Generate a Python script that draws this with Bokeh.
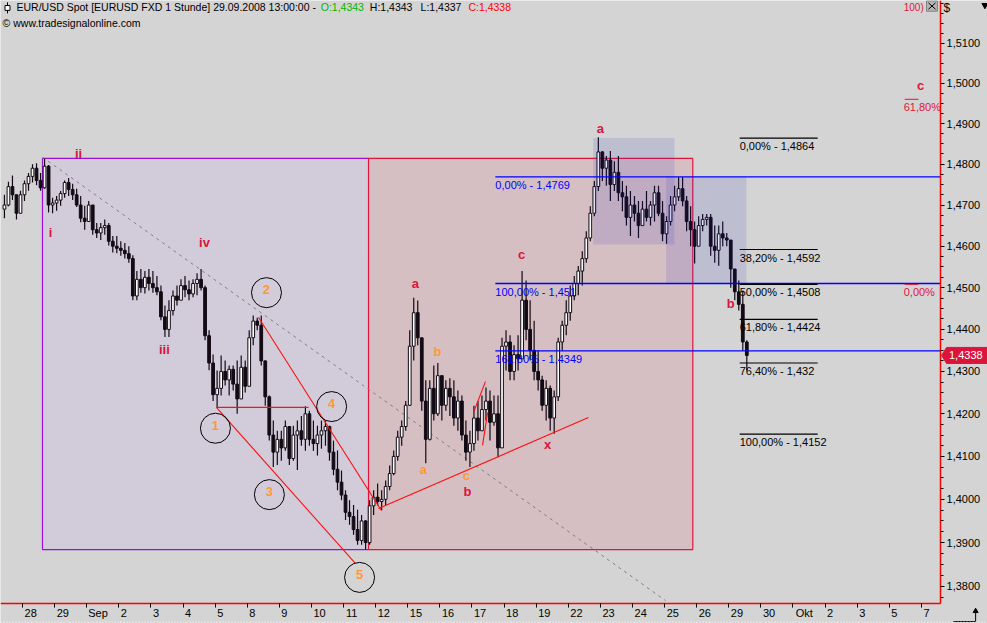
import math
from bokeh.plotting import figure
from bokeh.models import (Range1d, FixedTicker, CustomJSTickFormatter, Label,
                          ColumnDataSource, LinearAxis)
from bokeh.embed import file_html
from bokeh.resources import INLINE
from bokeh.core.properties import value

FONT = "Liberation Sans"

# ---------------- axis data ----------------
day_tick_labels = ["28", "29", "Sep", "2", "3", "4", "5", "8", "9", "10", "11", "12", "15",
                   "16", "17", "18", "19", "22", "23", "24", "25", "26", "29", "30", "Okt",
                   "2", "3", "5", "7"]
y_tick_values = [1.38, 1.39, 1.40, 1.41, 1.42, 1.43, 1.44, 1.45, 1.46, 1.47, 1.48, 1.49,
                 1.50, 1.51]

# ---------------- EUR/USD 3-hour bars (27.08. 09:00 .. 29.09. 12:00) ----------------
first_open = 1.4690
highs = [
    1.4725, 1.4757, 1.4772, 1.4722, 1.4735,                                   # 27 Aug
    1.4760, 1.4778, 1.4800, 1.4802, 1.4778, 1.4814, 1.4798, 1.4718,           # 28
    1.4722, 1.4734, 1.4760, 1.4766, 1.4752, 1.4740, 1.4722, 1.4698,           # 29
    1.4710, 1.4688, 1.4656, 1.4656, 1.4665, 1.4656, 1.4625, 1.4625,           # 1 Sep
    1.4612, 1.4608, 1.4600, 1.4578, 1.4540, 1.4545, 1.4540, 1.4545,           # 2
    1.4540, 1.4528, 1.4505, 1.4457, 1.4470, 1.4493, 1.4505, 1.4520,           # 3
    1.4528, 1.4517, 1.4520, 1.4535, 1.4545, 1.4505, 1.4398, 1.4340,           # 4
    1.4302, 1.4338, 1.4326, 1.4314, 1.4314, 1.4326, 1.4338, 1.4326,           # 5
    1.4398, 1.4433, 1.4428, 1.4433, 1.4326, 1.4243, 1.4184, 1.4160,           # 8
    1.4160, 1.4184, 1.4160, 1.4172, 1.4184, 1.4195, 1.4218, 1.4207,           # 9
    1.4184, 1.4172, 1.4184, 1.4184, 1.4172, 1.4137, 1.4114, 1.4067,           # 10
    1.4021, 1.3998, 1.3987, 1.3976, 1.3964, 1.3952, 1.3998, 1.4021,           # 11
    1.4037, 1.4021, 1.4044, 1.4079, 1.4114, 1.4160, 1.4184, 1.4230,           # 12
    1.4398, 1.4476, 1.4469, 1.4374, 1.4279, 1.4279, 1.4314, 1.4320,           # 15
    1.4290, 1.4279, 1.4284, 1.4279, 1.4255, 1.4243, 1.4184, 1.4160,           # 16
    1.4219, 1.4230, 1.4243, 1.4262, 1.4255, 1.4243, 1.4243, 1.4380,           # 17
    1.4398, 1.4386, 1.4362, 1.4386, 1.4540, 1.4517, 1.4470, 1.4421,           # 18
    1.4350, 1.4290, 1.4279, 1.4267, 1.4255, 1.4380, 1.4421, 1.4470,           # 19
    1.4505, 1.4528, 1.4552, 1.4588, 1.4636, 1.4697, 1.4759, 1.4866,           # 22
    1.4832, 1.4820, 1.4832, 1.4807, 1.4820, 1.4759, 1.4747, 1.4734,           # 23
    1.4722, 1.4710, 1.4710, 1.4734, 1.4710, 1.4747, 1.4747, 1.4710,           # 24
    1.4673, 1.4722, 1.4747, 1.4768, 1.4768, 1.4722, 1.4697, 1.4660,           # 25
    1.4673, 1.4678, 1.4678, 1.4678, 1.4650, 1.4650, 1.4660, 1.4632,           # 26
    1.4558, 1.4540, 1.4517, 1.4493, 1.4374,                                   # 29
]
lows = [
    1.4668, 1.4697, 1.4712, 1.4665, 1.4683,
    1.4710, 1.4735, 1.4755, 1.4748, 1.4735, 1.4740, 1.4682, 1.4680,
    1.4686, 1.4698, 1.4718, 1.4722, 1.4712, 1.4695, 1.4658, 1.4640,
    1.4662, 1.4628, 1.4620, 1.4615, 1.4628, 1.4602, 1.4585, 1.4583,
    1.4577, 1.4570, 1.4560, 1.4470, 1.4470, 1.4488, 1.4486, 1.4493,
    1.4488, 1.4482, 1.4422, 1.4382, 1.4382, 1.4433, 1.4457, 1.4470,
    1.4477, 1.4470, 1.4477, 1.4482, 1.4493, 1.4374, 1.4303, 1.4230,
    1.4215, 1.4243, 1.4267, 1.4243, 1.4255, 1.4200, 1.4255, 1.4250,
    1.4267, 1.4362, 1.4398, 1.4314, 1.4219, 1.4137, 1.4075, 1.4080,
    1.4090, 1.4113, 1.4080, 1.4090, 1.4068, 1.4125, 1.4113, 1.4125,
    1.4113, 1.4102, 1.4118, 1.4125, 1.4090, 1.4056, 1.4021, 1.3998,
    1.3952, 1.3941, 1.3918, 1.3895, 1.3895, 1.3884, 1.3895, 1.3964,
    1.3986, 1.3975, 1.3986, 1.4021, 1.4056, 1.4090, 1.4125, 1.4160,
    1.4219, 1.4326, 1.4362, 1.4207, 1.4084, 1.4137, 1.4184, 1.4195,
    1.4184, 1.4207, 1.4195, 1.4172, 1.4160, 1.4137, 1.4090, 1.4075,
    1.4113, 1.4137, 1.4160, 1.4184, 1.4137, 1.4172, 1.4098, 1.4137,
    1.4302, 1.4279, 1.4279, 1.4302, 1.4350, 1.4374, 1.4326, 1.4279,
    1.4255, 1.4207, 1.4184, 1.4160, 1.4153, 1.4230, 1.4350, 1.4386,
    1.4421, 1.4470, 1.4482, 1.4505, 1.4560, 1.4612, 1.4673, 1.4734,
    1.4759, 1.4747, 1.4710, 1.4734, 1.4710, 1.4685, 1.4650, 1.4625,
    1.4660, 1.4620, 1.4650, 1.4660, 1.4650, 1.4660, 1.4673, 1.4612,
    1.4606, 1.4650, 1.4685, 1.4710, 1.4697, 1.4636, 1.4600, 1.4558,
    1.4612, 1.4636, 1.4650, 1.4577, 1.4560, 1.4553, 1.4600, 1.4600,
    1.4500, 1.4470, 1.4445, 1.4350, 1.4303,
]
closes = [
    1.4700, 1.4745, 1.4725, 1.4680, 1.4725,
    1.4752, 1.4770, 1.4790, 1.4760, 1.4742, 1.4795, 1.4700, 1.4705,
    1.4712, 1.4728, 1.4755, 1.4738, 1.4725, 1.4700, 1.4668, 1.4660,
    1.4700, 1.4640, 1.4632, 1.4645, 1.4650, 1.4612, 1.4600, 1.4595,
    1.4590, 1.4582, 1.4570, 1.4480, 1.4520, 1.4500, 1.4525, 1.4510,
    1.4500, 1.4490, 1.4430, 1.4400, 1.4445, 1.4480, 1.4470, 1.4505,
    1.4495, 1.4485, 1.4510, 1.4520, 1.4500, 1.4385, 1.4320, 1.4245,
    1.4260, 1.4300, 1.4280, 1.4305, 1.4270, 1.4235, 1.4310, 1.4265,
    1.4380, 1.4420, 1.4410, 1.4325, 1.4240, 1.4150, 1.4110, 1.4140,
    1.4120, 1.4170, 1.4095, 1.4150, 1.4160, 1.4140, 1.4200, 1.4140,
    1.4130, 1.4150, 1.4160, 1.4170, 1.4110, 1.4070, 1.4040, 1.4010,
    1.3970, 1.3960, 1.3930, 1.3905, 1.3950, 1.3900, 1.3985, 1.4005,
    1.3995, 1.4000, 1.4030, 1.4060, 1.4100, 1.4145, 1.4170, 1.4220,
    1.4360, 1.4440, 1.4380, 1.4230, 1.4140, 1.4260, 1.4200, 1.4290,
    1.4220, 1.4260, 1.4240, 1.4190, 1.4230, 1.4150, 1.4110, 1.4130,
    1.4190, 1.4160, 1.4210, 1.4230, 1.4180, 1.4200, 1.4120, 1.4360,
    1.4370, 1.4300, 1.4340, 1.4330, 1.4470, 1.4400, 1.4350, 1.4300,
    1.4280, 1.4220, 1.4260, 1.4190, 1.4240, 1.4370, 1.4410, 1.4440,
    1.4480, 1.4510, 1.4540, 1.4570, 1.4620, 1.4680, 1.4745, 1.4830,
    1.4790, 1.4810, 1.4750, 1.4780, 1.4730, 1.4720, 1.4670, 1.4700,
    1.4680, 1.4650, 1.4690, 1.4670, 1.4700, 1.4730, 1.4680, 1.4630,
    1.4660, 1.4700, 1.4720, 1.4740, 1.4710, 1.4660, 1.4640, 1.4600,
    1.4650, 1.4665, 1.4670, 1.4600, 1.4590, 1.4630, 1.4620, 1.4615,
    1.4545, 1.4490, 1.4460, 1.4370, 1.4338,
]

# ---------------- drawing annotations (trading-day index / price) ----------------
rect_left = [0.623, 10.78]
rect_right = [10.78, 20.88]
rect_top = [1.4814, 1.4814]
rect_bottom = [1.3884, 1.3884]
rect_line = ["#9A10D8", "#E0143C"]
rect_fill = ["#D2CCDA", "#D5BFC3"]

blue_box_left = [17.78, 20.05]
blue_box_right = [20.31, 22.55]
blue_box_top = [1.4864, 1.4769]
blue_box_bottom = [1.4604, 1.4510]

dash_x = [0.623, 20.03]
dash_y = [1.4817, 1.3767]

red_x0 = [6.04, 6.04, 7.35, 11.09, 14.05, 14.33]
red_y0 = [1.4215, 1.4215, 1.4429, 1.3979, 1.4203, 1.4126]
red_x1 = [8.91, 10.37, 11.18, 17.63, 14.42, 14.49]
red_y1 = [1.4215, 1.3852, 1.3974, 1.4191, 1.4276, 1.4203]

blue_levels = [1.4769, 1.4510, 1.4349]
blue_texts = ["0,00% - 1,4769", "100,00% - 1,451", "161,80% - 1,4349"]
black_levels = [1.4864, 1.4592, 1.4508, 1.4424, 1.4320, 1.4152]
black_texts = ["0,00% - 1,4864", "38,20% - 1,4592", "50,00% - 1,4508",
               "61,80% - 1,4424", "76,40% - 1,432", "100,00% - 1,4152"]
target_levels = [1.4960, 1.4508]
target_texts = ["61,80%", "0,00%"]

wave_text = ["ii", "i", "iv", "iii", "a", "c", "a", "b", "x", "b", "c"]
wave_x = [1.745, 0.872, 5.67, 4.42, 12.24, 15.55, 18.0, 22.06, 16.36, 13.86, 27.98]
wave_y = [1.4826, 1.4633, 1.4609, 1.4352, 1.4510, 1.4580, 1.4888, 1.4462, 1.4128, 1.4018, 1.4995]

sub_text = ["b", "a", "c"]
sub_x = [12.93, 12.49, 13.83]
sub_y = [1.4348, 1.4070, 1.4056]

count_text = ["1", "2", "3", "4", "5"]
count_x = [6.01, 7.60, 7.69, 9.63, 10.50]
count_y = [1.4166, 1.4488, 1.4011, 1.4217, 1.3820]

last_close = closes[-1]

# ---------------- layout constants (day index / price of the chart window) ----------------
X_START, X_END = -0.685, 30.06          # whole window width
Y_BOTTOM, Y_TOP = 1.37148, 1.5207       # whole window height
AXIS_X = 28.598                          # price scale position
AXIS_Y = 1.37605                         # time scale position
HEAD_Y = 1.5190
SUB_Y = 1.5150
DAY_PX = 32.1                            # pixels per trading day

# ---------------- figure ----------------
p = figure(width=987, height=623, output_backend="svg", toolbar_location=None,
           title=None, y_axis_type="log", y_axis_location="right",
           x_range=Range1d(X_START, X_END), y_range=Range1d(Y_BOTTOM, Y_TOP),
           min_border_left=0, min_border_top=0, min_border_right=0, min_border_bottom=0)
p.background_fill_color = "#D4D4D4"
p.border_fill_color = "#D4D4D4"
p.outline_line_color = None
p.xgrid.visible = False
p.ygrid.visible = False

# time axis: tick marks at the start of each day ...
xa = p.xaxis[0]
xa.axis_label = None
xa.fixed_location = AXIS_Y
xa.bounds = (X_START, AXIS_X)
xa.ticker = FixedTicker(ticks=list(range(len(day_tick_labels))))
xa.formatter = CustomJSTickFormatter(code="return '';")
xa.axis_line_color = "#FF0000"
xa.axis_line_width = 1.5
xa.major_tick_in = 0
xa.major_tick_out = 4
xa.major_tick_line_color = "black"
xa.minor_tick_in = 0
xa.minor_tick_out = 0

# ... and the day labels just to the right of each tick mark
label_pos = [i + (2 + 3.1 * len(lab)) / DAY_PX for i, lab in enumerate(day_tick_labels)]
xl = LinearAxis(fixed_location=AXIS_Y, axis_label=None,
                ticker=FixedTicker(ticks=label_pos),
                formatter=CustomJSTickFormatter(args=dict(labels=day_tick_labels),
                                                code="return labels[Math.floor(tick + 1e-6)];"))
xl.axis_line_color = None
xl.major_tick_in = 0
xl.major_tick_out = 0
xl.minor_tick_in = 0
xl.minor_tick_out = 0
xl.major_label_standoff = 4
xl.major_label_text_font = FONT
xl.major_label_text_font_size = "11px"
xl.major_label_text_color = "black"
p.add_layout(xl, "below")

ya = p.yaxis[0]
ya.axis_label = None
ya.fixed_location = AXIS_X
ya.bounds = (AXIS_Y, Y_TOP)
minor = [round(1.3775 + 0.0025 * k, 4) for k in range(58)]
ya.ticker = FixedTicker(ticks=y_tick_values, minor_ticks=minor)
ya.formatter = CustomJSTickFormatter(code="return tick.toFixed(4).replace('.', ',');")
ya.axis_line_color = "#FF0000"
ya.axis_line_width = 1.5
ya.major_tick_in = 0
ya.major_tick_out = 4
ya.minor_tick_in = 0
ya.minor_tick_out = 3
ya.major_tick_line_color = "black"
ya.minor_tick_line_color = "black"
ya.major_label_standoff = 2
ya.major_label_text_font = FONT
ya.major_label_text_font_size = "11px"
ya.major_label_text_color = "black"

# rectangles
p.quad(left=rect_left, right=rect_right, top=rect_top, bottom=rect_bottom,
       fill_color=rect_fill, line_color=rect_line, line_width=1.2)

# dashed trend line
p.line(dash_x, dash_y, line_color="#808080", line_dash="3 4", line_width=1)

# candles
bar_x = []
for d in range(-1, 23):
    if d == -1:
        hours = [9, 12, 15, 18, 21]
    elif d == 22:
        hours = [0, 3, 6, 9, 12]
    else:
        hours = [0, 3, 6, 9, 12, 15, 18, 21]
    for h in hours:
        bar_x.append(d + (h + 1.5) / 24.0)

opens = [first_open] + closes[:-1]
hi = [max(h, o, c) for h, o, c in zip(highs, opens, closes)]
lo = [min(l, o, c) for l, o, c in zip(lows, opens, closes)]
src = ColumnDataSource(dict(
    x=bar_x, high=hi, low=lo,
    top=[max(o, c) for o, c in zip(opens, closes)],
    bottom=[min(o, c) for o, c in zip(opens, closes)],
    fill=["white" if c >= o else "#120A14" for o, c in zip(opens, closes)],
))
p.segment(x0="x", y0="high", x1="x", y1="low", line_color="#120A14", line_width=1.2, source=src)
p.vbar(x="x", width=0.085, top="top", bottom="bottom", fill_color="fill",
       line_color="#120A14", line_width=1, source=src)

# blue boxes (semi-transparent, over the bars)
p.quad(left=blue_box_left, right=blue_box_right, top=blue_box_top, bottom=blue_box_bottom,
       fill_color="#2020C0", fill_alpha=0.12, line_color=None)

# red wave lines
p.segment(x0=red_x0, y0=red_y0, x1=red_x1, y1=red_y1, line_color="#FF1010", line_width=1.1)

# circles around impulse counts
p.scatter(count_x, count_y, marker="circle", size=30, fill_color=None,
          line_color="black", line_width=1)

# blue Fibonacci lines
p.segment(x0=[14.73] * 3, y0=blue_levels, x1=[AXIS_X] * 3, y1=blue_levels,
          line_color="#0000FF", line_width=1.3)
p.text([14.73] * 3, blue_levels, text=blue_texts, text_color="#0000FF",
       text_font=value(FONT), text_font_size="11px", text_baseline="top", y_offset=2)

# black Fibonacci lines
p.segment(x0=[22.34] * 6, y0=black_levels, x1=[24.77] * 6, y1=black_levels,
          line_color="black", line_width=1.2)
p.text([22.34] * 6, black_levels, text=black_texts, text_color="black",
       text_font=value(FONT), text_font_size="11px", text_baseline="top", y_offset=2)

# red target lines
p.segment(x0=[27.48] * 2, y0=target_levels, x1=[27.91] * 2, y1=target_levels,
          line_color="#E0143C", line_width=1)
p.text([27.45] * 2, target_levels, text=target_texts, text_color="#E0143C",
       text_font=value(FONT), text_font_size="11px", text_baseline="top", y_offset=2)
p.text([27.45], [1.5204], text=["100)"], text_color="#E0143C",
       text_font=value(FONT), text_font_size="10px", text_baseline="top")

# wave labels
p.text(wave_x, wave_y, text=wave_text, text_color="#DC143C", text_font=value(FONT),
       text_font_size="13px", text_font_style="bold", text_align="center",
       text_baseline="middle")
p.text(sub_x, sub_y, text=sub_text, text_color="#FF9933", text_font=value(FONT),
       text_font_size="13px", text_font_style="bold", text_align="center",
       text_baseline="middle")
p.text(count_x, count_y, text=count_text, text_color="#FF9933", text_font=value(FONT),
       text_font_size="13px", text_font_style="bold", text_align="center",
       text_baseline="middle", y_offset=-3)

# header: small candle icon + texts
p.segment(x0=[-0.467], y0=[1.52023], x1=[-0.467], y1=[1.51745], line_color="black",
          line_width=1)
p.quad(left=[-0.545], right=[-0.389], top=[1.51943], bottom=[1.51821],
       fill_color="white", line_color="black", line_width=1)
header = [
    (-0.187, "EUR/USD Spot [EURUSD FXD  1 Stunde] 29.09.2008 13:00:00 -", "black"),
    (9.29, "O:1,4343", "#00B400"),
    (10.82, "H:1,4343", "black"),
    (12.40, "L:1,4337", "black"),
    (13.89, "C:1,4338", "#FF0000"),
]
for xd, txt, col in header:
    p.add_layout(Label(x=xd, y=HEAD_Y, text=txt, text_color=col, text_font=FONT,
                       text_font_size="10.5px", text_baseline="middle"))
p.add_layout(Label(x=-0.62, y=SUB_Y, text="\u00a9 www.tradesignalonline.com",
                   text_color="black", text_font=FONT, text_font_size="10.5px",
                   text_baseline="middle"))

# small close button of the chart window (gray box with a cross)
p.quad(left=[28.16], right=[28.50], top=[1.5206], bottom=[1.5180],
       fill_color="#B4B4B4", line_color="#808080", line_width=1)
p.segment(x0=[28.22, 28.22], y0=[1.5201, 1.5185], x1=[28.44, 28.44], y1=[1.5185, 1.5201],
          line_color="black", line_width=1)

# currency sign and menu arrow on the price scale
p.text([28.69], [1.5187], text=["$"], text_color="black", text_font=value(FONT),
       text_font_size="12px", text_baseline="middle")
p.scatter([29.98], [1.5195], marker="inverted_triangle", size=6, fill_color="black",
          line_color="black")

# scroll icon in the lower right corner and dotted window edge
p.segment(x0=[29.0, 29.69], y0=[1.37193, 1.37193], x1=[29.69, 29.69], y1=[1.37193, 1.37421],
          line_color="black", line_width=1)
p.scatter([29.69], [1.37430], marker="triangle", size=5, fill_color="black",
          line_color="black")
p.line([X_START, X_END], [1.37180, 1.37180], line_color="white", line_dash="1 2",
       line_width=1)

# last price tag
tag_h = 1.00133
p.patch([28.63, 28.785, 30.06, 30.06, 28.785],
        [last_close, last_close * tag_h, last_close * tag_h, last_close / tag_h,
         last_close / tag_h],
        fill_color="#DC143C", line_color="#DC143C")
p.text([28.86], [last_close], text=["1,4338"], text_color="white", text_font=value(FONT),
       text_font_size="11px", text_baseline="middle")

open("out.html", "w").write(file_html(p, INLINE))
